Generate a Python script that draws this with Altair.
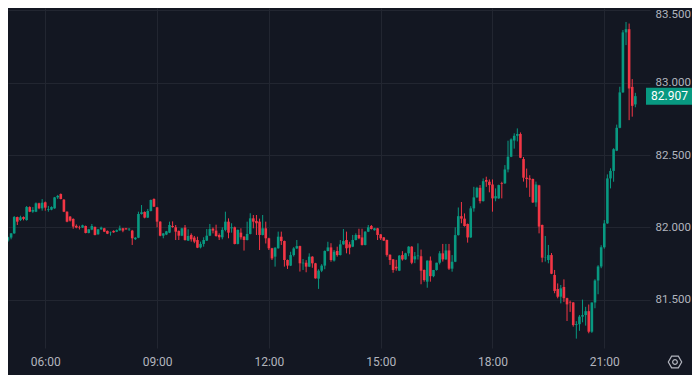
import altair as alt
import pandas as pd

# 5-minute candles, first candle at 04:50
start_time = "04:50"
step_minutes = 5

opens = [
    81.968, 81.947, 81.908, 81.929, 81.958, 82.071, 82.050, 82.071, 82.050, 82.140,
    82.108, 82.108, 82.166, 82.131, 82.173, 82.120, 82.122, 82.131, 82.207, 82.230,
    82.191, 82.108, 82.074, 82.058, 82.010, 82.000, 81.998, 82.009, 81.961, 81.984,
    82.002, 81.952, 81.986, 81.993, 81.975, 81.965, 81.975, 81.970, 81.979, 81.993,
    81.993, 81.985, 81.977, 81.918, 81.928, 82.092, 82.106, 82.067, 82.113, 82.196,
    82.138, 82.039, 81.942, 81.950, 81.963, 82.009, 82.000, 81.975, 81.942, 81.998,
    81.908, 81.947, 81.929, 81.912, 81.861, 81.885, 81.908, 81.942, 81.990, 81.977,
    81.947, 81.931, 81.982, 82.039, 81.993, 82.000, 81.885, 81.963, 81.935, 81.912,
    81.954, 82.062, 82.044, 82.039, 81.947, 81.993, 81.924, 81.855, 81.797, 81.855,
    81.935, 81.905, 81.774, 81.735, 81.808, 81.854, 81.870, 81.751, 81.755, 81.728,
    81.797, 81.751, 81.645, 81.700, 81.735, 81.836, 81.861, 81.770, 81.836, 81.808,
    81.882, 81.912, 81.882, 81.866, 81.912, 81.947, 81.930, 81.878, 81.970, 82.009,
    81.980, 81.993, 81.951, 81.930, 81.912, 81.810, 81.778, 81.727, 81.700, 81.808,
    81.778, 81.820, 81.866, 81.778, 81.800, 81.800, 81.705, 81.624, 81.770, 81.662,
    81.705, 81.755, 81.820, 81.778, 81.840, 81.714, 81.762, 81.946, 82.077, 82.060,
    82.023, 81.930, 82.131, 82.207, 82.273, 82.181, 82.327, 82.315, 82.296, 82.200,
    82.200, 82.305, 82.304, 82.400, 82.488, 82.600, 82.633, 82.645, 82.472, 82.343,
    82.338, 82.334, 82.172, 82.290, 82.016, 81.790, 81.774, 81.808, 81.670, 81.573,
    81.520, 81.587, 81.510, 81.484, 81.480, 81.324, 81.330, 81.382, 81.393, 81.420,
    81.278, 81.480, 81.632, 81.729, 81.862, 82.027, 82.338, 82.390, 82.530, 82.688,
    82.933, 83.348, 83.370, 82.971, 82.850,
]

highs = [
    81.975, 81.950, 81.935, 81.960, 82.078, 82.074, 82.080, 82.075, 82.147, 82.145,
    82.140, 82.172, 82.170, 82.195, 82.178, 82.148, 82.145, 82.210, 82.224, 82.234,
    82.195, 82.110, 82.078, 82.062, 82.020, 82.011, 82.018, 82.012, 81.989, 82.023,
    82.006, 81.989, 82.005, 81.996, 81.978, 81.970, 81.979, 81.985, 82.012, 81.996,
    81.996, 81.995, 81.982, 81.932, 82.108, 82.154, 82.110, 82.127, 82.192, 82.200,
    82.141, 82.042, 81.960, 81.975, 82.039, 82.041, 82.016, 81.978, 81.997, 82.016,
    81.986, 81.958, 81.940, 81.935, 81.901, 81.931, 81.988, 82.023, 81.999, 82.018,
    81.958, 82.000, 82.108, 82.062, 82.028, 82.005, 81.985, 81.993, 81.939, 82.039,
    82.097, 82.085, 82.085, 82.060, 82.085, 82.039, 81.928, 81.858, 81.862, 81.970,
    81.970, 81.908, 81.777, 81.831, 81.863, 81.912, 81.873, 81.781, 81.773, 81.820,
    81.800, 81.754, 81.710, 81.745, 81.840, 81.900, 81.890, 81.843, 81.866, 81.912,
    81.988, 81.970, 81.900, 81.947, 81.958, 81.990, 81.990, 81.973, 82.016, 82.016,
    81.996, 81.996, 81.954, 81.933, 81.915, 81.813, 81.781, 81.775, 81.808, 81.835,
    81.824, 81.870, 81.870, 81.829, 81.889, 81.846, 81.708, 81.770, 81.798, 81.705,
    81.755, 81.835, 81.885, 81.885, 81.885, 81.808, 82.000, 82.137, 82.175, 82.096,
    82.026, 82.146, 82.280, 82.280, 82.292, 82.338, 82.350, 82.331, 82.331, 82.269,
    82.295, 82.315, 82.430, 82.599, 82.615, 82.650, 82.684, 82.656, 82.486, 82.406,
    82.360, 82.337, 82.316, 82.294, 82.019, 81.940, 81.878, 81.822, 81.705, 81.612,
    81.601, 81.640, 81.513, 81.493, 81.483, 81.351, 81.393, 81.500, 81.450, 81.466,
    81.480, 81.641, 81.738, 81.876, 82.050, 82.366, 82.408, 82.547, 82.710, 82.972,
    83.364, 83.420, 83.409, 83.025, 82.930,
]

lows = [
    81.925, 81.900, 81.900, 81.917, 81.955, 82.016, 82.043, 82.048, 82.046, 82.105,
    82.100, 82.105, 82.125, 82.115, 82.115, 82.108, 82.118, 82.128, 82.196, 82.193,
    82.105, 82.035, 82.040, 81.990, 81.993, 81.985, 81.995, 81.958, 81.958, 81.980,
    81.944, 81.948, 81.982, 81.967, 81.953, 81.943, 81.962, 81.967, 81.976, 81.966,
    81.983, 81.975, 81.878, 81.912, 81.925, 82.088, 82.062, 82.064, 82.110, 82.140,
    82.000, 81.938, 81.924, 81.946, 81.960, 81.997, 81.912, 81.912, 81.939, 81.908,
    81.905, 81.901, 81.890, 81.856, 81.854, 81.866, 81.905, 81.939, 81.958, 81.935,
    81.912, 81.917, 81.972, 81.924, 81.963, 81.882, 81.882, 81.915, 81.839, 81.909,
    81.951, 81.993, 81.947, 81.843, 81.944, 81.888, 81.843, 81.774, 81.728, 81.852,
    81.878, 81.728, 81.712, 81.732, 81.798, 81.850, 81.694, 81.705, 81.689, 81.725,
    81.720, 81.645, 81.574, 81.690, 81.710, 81.833, 81.762, 81.763, 81.797, 81.805,
    81.879, 81.820, 81.813, 81.863, 81.909, 81.918, 81.874, 81.875, 81.967, 81.985,
    81.977, 81.912, 81.912, 81.905, 81.797, 81.740, 81.686, 81.700, 81.697, 81.770,
    81.775, 81.800, 81.745, 81.752, 81.777, 81.606, 81.624, 81.582, 81.624, 81.655,
    81.700, 81.743, 81.763, 81.775, 81.705, 81.693, 81.759, 81.943, 82.028, 82.005,
    81.894, 81.927, 82.108, 82.204, 82.165, 82.178, 82.280, 82.242, 82.108, 82.180,
    82.197, 82.200, 82.300, 82.380, 82.485, 82.544, 82.594, 82.478, 82.316, 82.274,
    82.210, 82.168, 82.142, 81.958, 81.758, 81.763, 81.751, 81.676, 81.544, 81.509,
    81.474, 81.484, 81.352, 81.415, 81.313, 81.230, 81.284, 81.343, 81.320, 81.267,
    81.270, 81.440, 81.537, 81.717, 81.852, 82.024, 82.269, 82.315, 82.527, 82.685,
    82.930, 83.260, 82.741, 82.765, 82.830,
]

closes = [
    81.943, 81.912, 81.931, 81.958, 82.071, 82.039, 82.069, 82.058, 82.140, 82.108,
    82.120, 82.166, 82.131, 82.170, 82.136, 82.125, 82.140, 82.207, 82.217, 82.196,
    82.108, 82.039, 82.046, 82.005, 81.998, 81.997, 82.014, 81.961, 81.986, 82.009,
    81.947, 81.986, 81.998, 81.970, 81.956, 81.968, 81.965, 81.980, 81.993, 81.977,
    81.986, 81.990, 81.924, 81.928, 82.092, 82.104, 82.067, 82.113, 82.189, 82.143,
    82.039, 81.942, 81.958, 81.972, 82.016, 82.002, 81.970, 81.942, 81.993, 81.912,
    81.940, 81.917, 81.901, 81.859, 81.885, 81.912, 81.942, 81.988, 81.977, 81.940,
    81.931, 81.982, 82.039, 81.963, 82.000, 81.885, 81.982, 81.931, 81.912, 81.954,
    82.062, 82.039, 82.028, 81.947, 81.993, 81.924, 81.855, 81.785, 81.859, 81.935,
    81.905, 81.774, 81.735, 81.808, 81.854, 81.870, 81.751, 81.755, 81.728, 81.797,
    81.751, 81.647, 81.700, 81.735, 81.836, 81.861, 81.774, 81.831, 81.808, 81.882,
    81.905, 81.855, 81.859, 81.912, 81.947, 81.924, 81.878, 81.970, 82.000, 81.988,
    81.993, 81.947, 81.924, 81.908, 81.809, 81.774, 81.705, 81.716, 81.804, 81.778,
    81.820, 81.866, 81.755, 81.800, 81.805, 81.700, 81.635, 81.770, 81.662, 81.705,
    81.755, 81.820, 81.778, 81.840, 81.714, 81.762, 81.946, 82.077, 82.060, 82.009,
    81.930, 82.131, 82.207, 82.273, 82.181, 82.319, 82.315, 82.292, 82.200, 82.215,
    82.292, 82.300, 82.400, 82.488, 82.608, 82.633, 82.645, 82.481, 82.343, 82.334,
    82.330, 82.172, 82.296, 82.005, 81.790, 81.792, 81.808, 81.679, 81.560, 81.520,
    81.578, 81.510, 81.467, 81.480, 81.324, 81.330, 81.382, 81.393, 81.420, 81.278,
    81.480, 81.632, 81.729, 81.862, 82.027, 82.338, 82.390, 82.540, 82.688, 82.933,
    83.348, 83.370, 82.960, 82.840, 82.907,
]

price_ticks = [81.5, 82.0, 82.5, 83.0, 83.5]
time_ticks = ["06:00", "09:00", "12:00", "15:00", "18:00", "21:00"]


def to_minutes(s):
    h, m = s.split(":")
    return int(h) * 60 + int(m)


t0 = to_minutes(start_time)
df = pd.DataFrame({
    "t": [t0 + step_minutes * i for i in range(len(closes))],
    "open": opens,
    "high": highs,
    "low": lows,
    "close": closes,
})
df["dir"] = ["up" if c >= o else "down" for o, c in zip(df["open"], df["close"])]

UP = "#089981"
DOWN = "#f23645"
BG = "#131722"
GRID = "#222631"
TXT = "#b2b5be"
FONT = "Roboto"

xscale = alt.Scale(domain=[300, 1333.6], nice=False, zero=False, padding=0)
yscale = alt.Scale(domain=[81.1653, 83.5166], nice=False, zero=False, padding=0)
color = alt.Color("dir:N", scale=alt.Scale(domain=["up", "down"], range=[UP, DOWN]), legend=None)

x_axis = alt.Axis(
    values=[to_minutes(s) for s in time_ticks],
    labelExpr="(floor(datum.value/60) < 10 ? '0' : '') + floor(datum.value/60) + ':00'",
    grid=True, gridColor=GRID, gridWidth=1, domain=False, ticks=False,
    labelColor=TXT, labelFont=FONT, labelFontSize=12, labelPadding=8, title=None,
)
y_axis = alt.Axis(
    orient="right", values=price_ticks, format=".3f",
    grid=True, gridColor=GRID, gridWidth=1, domain=False, ticks=False,
    labelColor=TXT, labelFont=FONT, labelFontSize=11.5, labelPadding=5, title=None,
    labelFlush=4, labelFlushOffset=2,
)

base = alt.Chart(df)

wicks = base.mark_rule(clip=True, strokeWidth=1).encode(
    x=alt.X("t:Q", scale=xscale, axis=x_axis),
    y=alt.Y("low:Q", scale=yscale, axis=y_axis),
    y2="high:Q",
    color=color,
)

bodies = base.mark_bar(clip=True, size=2.6).encode(
    x=alt.X("t:Q", scale=xscale),
    y=alt.Y("open:Q", scale=yscale),
    y2="close:Q",
    color=color,
)

last = df.tail(1)
box_w = 46
hw = 17 / box_w
box_path = f"M-1,-{hw:.4f}L1,-{hw:.4f}L1,{hw:.4f}L-1,{hw:.4f}Z"
price_box = alt.Chart(last).mark_point(
    shape=box_path, filled=True, size=box_w * box_w, opacity=1, color=UP, strokeWidth=0
).encode(
    x=alt.value(661),
    y=alt.Y("close:Q", scale=yscale),
)
price_text = alt.Chart(last).mark_text(
    color="#ffffff", font=FONT, fontSize=12, align="center", baseline="middle"
).encode(
    x=alt.value(661.5),
    y=alt.Y("close:Q", scale=yscale),
    text=alt.Text("close:Q", format=".3f"),
)

icon_df = pd.DataFrame({"k": [0]})
hex_path = "M-1,0L-0.5,-0.866L0.5,-0.866L1,0L0.5,0.866L-0.5,0.866Z"
icon_hex = alt.Chart(icon_df).mark_point(
    shape=hex_path, filled=False, size=180, color=TXT, strokeWidth=1.2, opacity=1
).encode(x=alt.value(667), y=alt.value(354))
icon_dot = alt.Chart(icon_df).mark_point(
    shape="circle", filled=False, size=22, color=TXT, strokeWidth=1.2, opacity=1
).encode(x=alt.value(667), y=alt.value(354))

chart = alt.layer(wicks, bodies, price_box, price_text, icon_hex, icon_dot).properties(
    width=642,
    height=340,
    autosize=alt.AutoSizeParams(type="none"),
    padding={"left": 0, "top": 0, "right": 42, "bottom": 27},
    background=BG,
).configure_view(stroke=None)

chart.save("out.html", embed_options={"renderer": "svg", "actions": False})
